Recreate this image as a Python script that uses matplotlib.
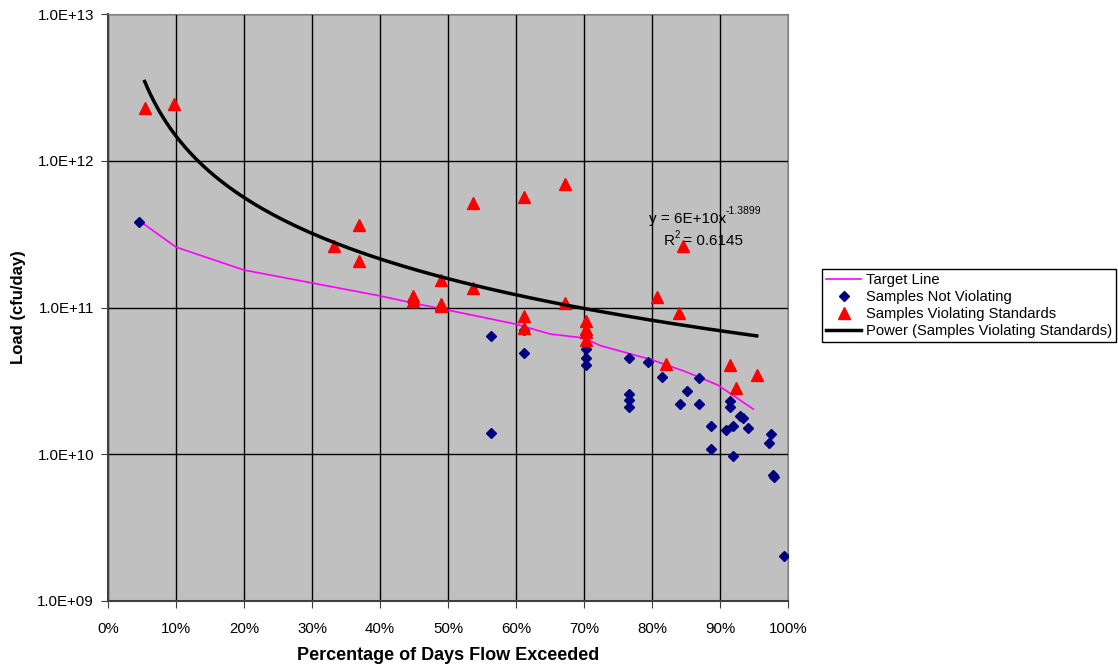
"""Load duration curve: target line, samples and power trend"""

import numpy as np
import matplotlib
matplotlib.use("Agg")
import matplotlib.pyplot as plt
from matplotlib.ticker import FixedLocator, FuncFormatter, NullLocator

plt.rcParams['font.family'] = ['Liberation Sans', 'DejaVu Sans']

# target line (fraction of days exceeded, load)
target_x = [0.046, 0.10, 0.20, 0.30, 0.40, 0.45, 0.50, 0.60, 0.65, 0.70, 0.724, 0.80, 0.851, 0.897, 0.949]
target_y = [3.9e11, 2.58e11, 1.8e11, 1.47e11, 1.2e11, 1.07e11, 9.6e10, 7.7e10, 6.6e10, 6.2e10, 5.5e10,
            4.4e10, 3.63e10, 2.96e10, 2.03e10]

# samples not violating
ok_x = [0.046, 0.449, 0.449, 0.563, 0.563, 0.612, 0.612, 0.703, 0.703, 0.703, 0.766, 0.766, 0.766,
        0.766, 0.794, 0.815, 0.841, 0.851, 0.869, 0.869, 0.887, 0.887, 0.909, 0.915, 0.915, 0.919,
        0.919, 0.929, 0.934, 0.941, 0.972, 0.975, 0.978, 0.980, 0.994]
ok_y = [3.83e11, 1.08e11, 1.12e11, 6.4e10, 1.4e10, 7.0e10, 4.9e10, 5.2e10, 4.5e10, 4.06e10, 4.53e10,
        2.58e10, 2.34e10, 2.1e10, 4.25e10, 3.36e10, 2.2e10, 2.7e10, 3.31e10, 2.2e10, 1.56e10, 1.09e10,
        1.46e10, 2.31e10, 2.1e10, 1.56e10, 9.8e9, 1.82e10, 1.77e10, 1.51e10, 1.19e10, 1.37e10, 7.2e9,
        7.0e9, 2.03e9]

# samples violating standards
bad_x = [0.054, 0.097, 0.332, 0.369, 0.369, 0.449, 0.449, 0.489, 0.489, 0.489, 0.537, 0.537, 0.612,
         0.612, 0.612, 0.672, 0.672, 0.703, 0.703, 0.703, 0.703, 0.807, 0.821, 0.840, 0.846, 0.915,
         0.924, 0.954]
bad_y = [2.29e12, 2.44e12, 2.62e11, 3.65e11, 2.07e11, 1.2e11, 1.1e11, 1.54e11, 1.06e11, 1.02e11,
         5.15e11, 1.36e11, 5.66e11, 8.75e10, 7.25e10, 6.95e11, 1.07e11, 8.1e10, 7.1e10, 6.8e10, 6.0e10,
         1.18e11, 4.12e10, 9.18e10, 2.62e11, 4.06e10, 2.83e10, 3.47e10]

# power trend reported on the chart: y = 6E+10 x^-1.3899, R^2 = 0.6145
trend_a = 6e10
trend_b = -1.3899

fig = plt.figure(figsize=(11.18, 6.65), dpi=100)
ax = fig.add_axes([108 / 1118, 64 / 665, 680 / 1118, 587 / 665])
ax.set_facecolor('#c0c0c0')

trend_x = np.linspace(min(bad_x), max(bad_x), 200)
trend_y = trend_a * trend_x ** trend_b

ax.plot(target_x, target_y, color='#ff00ff', lw=1.2, label='Target Line', zorder=3)
ax.plot(ok_x, ok_y, linestyle='none', marker='D', ms=5.5, color='#000080',
        label='Samples Not Violating', zorder=4)
ax.plot(bad_x, bad_y, linestyle='none', marker='^', ms=8, color='#ff0000',
        label='Samples Violating Standards', zorder=5)
ax.plot(trend_x, trend_y, color='black', lw=2.5, label='Power (Samples Violating Standards)', zorder=6)

ax.set_yscale('log')
ax.set_xlim(0, 1)
ax.set_ylim(1e9, 1e13)
ax.xaxis.set_major_locator(FixedLocator(np.arange(0, 1.01, 0.1)))
ax.xaxis.set_major_formatter(FuncFormatter(lambda v, p: f"{v * 100:.0f}%"))
ax.yaxis.set_major_locator(FixedLocator([1e9, 1e10, 1e11, 1e12, 1e13]))
ax.yaxis.set_minor_locator(NullLocator())
ax.yaxis.set_major_formatter(FuncFormatter(lambda v, p: f"1.0E+{int(round(np.log10(v))):02d}"))
ax.grid(True, color='black', lw=1.0)
ax.set_axisbelow(True)
ax.tick_params(axis='y', labelsize=10.8, length=5, color='#404040', pad=5)
ax.tick_params(axis='x', labelsize=10.8, length=5, color='#404040', pad=10)
for side in ('top', 'right'):
    ax.spines[side].set_color('#808080')
for side in ('left', 'bottom'):
    ax.spines[side].set_color('#404040')
    ax.spines[side].set_linewidth(1.5)

ax.set_xlabel('Percentage of Days Flow Exceeded', fontsize=13, fontweight='bold', labelpad=8)
ax.set_ylabel('Load (cfu/day)', fontsize=12, fontweight='bold', labelpad=8)

# trendline equation, superscripts as separate small labels so they keep plain text
eq = ax.text(0.795, 4.0e11, 'y = 6E+10x', fontsize=11, ha='left', va='center', zorder=7)
r2 = ax.text(0.817, 2.82e11, 'R', fontsize=11, ha='left', va='center', zorder=7)
fig.canvas.draw()
inv = ax.transData.inverted()
eq_x1 = inv.transform(eq.get_window_extent().p1)[0]
r2_x1 = inv.transform(r2.get_window_extent().p1)[0]
ax.annotate('-1.3899', xy=(eq_x1, 4.0e11), xytext=(0, 2), textcoords='offset points',
            fontsize=7.5, ha='left', va='bottom', zorder=7)
ax.annotate('2', xy=(r2_x1, 2.82e11), xytext=(0, 1), textcoords='offset points',
            fontsize=7, ha='left', va='bottom', zorder=7)
ax.annotate(' = 0.6145', xy=(r2_x1, 2.82e11), xytext=(3.5, 0), textcoords='offset points',
            fontsize=11, ha='left', va='center', zorder=7)

leg = fig.legend(loc='upper left', bbox_to_anchor=(815 / 1118, 1 - 262 / 665), fontsize=10.6,
                 frameon=True, fancybox=False, edgecolor='black', framealpha=1,
                 handlelength=2.4, borderpad=0.25, labelspacing=0.2, handletextpad=0.3)
leg.get_frame().set_linewidth(1.0)

fig.savefig('out.png', dpi=100)
